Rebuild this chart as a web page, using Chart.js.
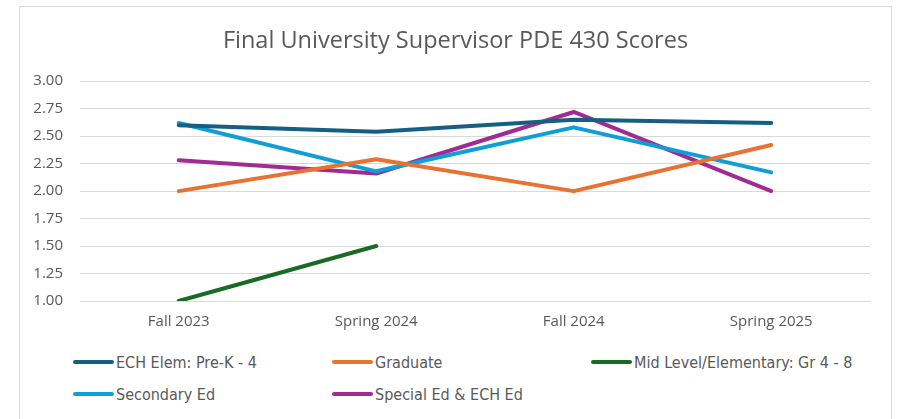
<!DOCTYPE html>
<html>
<head>
<meta charset="utf-8">
<script src="https://cdn.jsdelivr.net/npm/chart.js@4"></script>
<style>
  html, body { margin: 0; padding: 0; background: #fff; width: 899px; height: 419px; overflow: hidden; }
  #frame { position: absolute; left: 19px; top: 6px; width: 871px; height: 430px; border: 1px solid #d9d9d9; background: #fff; }
  #wrap { position: absolute; left: 0; top: 0; width: 871px; height: 340px; }
  #legend { position: absolute; left: 0; top: 0; width: 871px; font-family: "Liberation Sans Narrow", "DejaVu Sans Condensed", "Roboto", sans-serif; font-size: 16px; color: #595959; }
  .item { position: absolute; display: flex; align-items: center; white-space: nowrap; }
  .swatch { width: 41px; height: 4px; border-radius: 2px; margin-right: 2px; }
</style>
</head>
<body>
<div id="frame">
  <div id="wrap"><canvas id="c" width="871" height="340"></canvas></div>
  <div id="legend"></div>
</div>
<script>
const titleText = "Final University Supervisor PDE 430 Scores";
const categories = ["Fall 2023", "Spring 2024", "Fall 2024", "Spring 2025"];
const seriesNames = ["ECH Elem: Pre-K - 4", "Graduate", "Mid Level/Elementary: Gr 4 - 8", "Secondary Ed", "Special Ed & ECH Ed"];
const echElem = [2.60, 2.54, 2.65, 2.62];
const graduate = [2.00, 2.29, 2.00, 2.42];
const midLevel = [1.00, 1.50, null, null];
const secondaryEd = [2.62, 2.18, 2.58, 2.17];
const specialEd = [2.28, 2.16, 2.72, 2.00];
const seriesColors = ["#156082", "#E97132", "#196B24", "#0F9ED5", "#A02B93"];
const yTicks = [1.00, 1.25, 1.50, 1.75, 2.00, 2.25, 2.50, 2.75, 3.00];

const seriesValues = [echElem, graduate, midLevel, secondaryEd, specialEd];
const datasets = seriesNames.map((n, i) => ({
  label: n,
  data: seriesValues[i],
  borderColor: seriesColors[i],
  backgroundColor: seriesColors[i],
  borderWidth: 4,
  pointRadius: 0,
  pointHoverRadius: 0,
  tension: 0,
  borderCapStyle: 'round',
  borderJoinStyle: 'round',
  spanGaps: false
}));

const axisFont = { family: "'Open Sans', 'Liberation Sans', sans-serif", size: 15 };

new Chart(document.getElementById('c'), {
  type: 'line',
  data: { labels: categories, datasets: datasets },
  options: {
    responsive: false,
    animation: false,
    layout: { padding: { left: 0, right: 0, top: 0, bottom: 0 } },
    plugins: {
      legend: { display: false },
      tooltip: { enabled: false },
      title: {
        display: true,
        text: titleText,
        color: '#595959',
        font: { family: "'Open Sans', 'Liberation Sans', sans-serif", size: 23.5, weight: 'normal' },
        padding: { top: 20, bottom: 26 }
      }
    },
    scales: {
      x: {
        offset: true,
        grid: { display: false, drawTicks: false },
        border: { display: true, color: '#d9d9d9', width: 1 },
        ticks: { color: '#595959', font: axisFont, padding: 12, maxRotation: 0 },
        afterFit: (s) => { s.height = 46; }
      },
      y: {
        min: 1, max: 3,
        afterBuildTicks: (s) => { s.ticks = yTicks.map(v => ({ value: v })); },
        grid: { color: '#d9d9d9', lineWidth: 1, drawTicks: false },
        border: { display: false },
        ticks: { color: '#595959', font: axisFont, padding: 17, callback: (v) => Number(v).toFixed(2) },
        afterFit: (s) => { s.width = 60; }
      },
      yRight: {
        position: 'right',
        min: 1, max: 3,
        grid: { display: false, drawTicks: false },
        border: { display: false },
        ticks: { display: false },
        afterFit: (s) => { s.width = 21; }
      }
    }
  }
});

// HTML legend built from datasets
const legend = document.getElementById('legend');
const colX = [53, 312, 571];
const rowY = [355, 387];
datasets.forEach((d, i) => {
  const it = document.createElement('div');
  it.className = 'item';
  it.style.left = colX[i % 3] + 'px';
  it.style.top = (rowY[Math.floor(i / 3)] - 10) + 'px';
  it.style.height = '20px';
  const sw = document.createElement('div');
  sw.className = 'swatch';
  sw.style.background = d.borderColor;
  const tx = document.createElement('span');
  tx.textContent = d.label;
  it.appendChild(sw); it.appendChild(tx);
  legend.appendChild(it);
});
</script>
</body>
</html>
